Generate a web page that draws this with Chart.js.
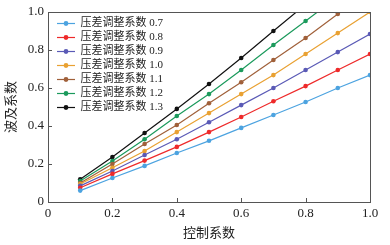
<!DOCTYPE html>
<html lang="zh">
<head>
  <meta charset="UTF-8" />
  <title>波及系数</title>
  <script src="https://cdn.jsdelivr.net/npm/chart.js"></script>
  <style>
    body { margin: 0; background: white; }
    .wrap { width: 390px; height: 245px; }
  </style>
</head>
<body>
  <div class="wrap"><canvas id="chart" width="390" height="245"></canvas></div>

  <script>
    // data
    const xValues = [0.1, 0.2, 0.3, 0.4, 0.5, 0.6, 0.7, 0.8, 0.9, 1.0];
    const seriesNames = ["压差调整系数 0.7", "压差调整系数 0.8", "压差调整系数 0.9", "压差调整系数 1.0",
                         "压差调整系数 1.1", "压差调整系数 1.2", "压差调整系数 1.3"];
    const s07 = [0.06, 0.126, 0.19, 0.258, 0.322, 0.39, 0.458, 0.526, 0.6, 0.668];
    const s08 = [0.075, 0.148, 0.218, 0.29, 0.368, 0.447, 0.53, 0.61, 0.695, 0.779];
    const s09 = [0.085, 0.163, 0.247, 0.33, 0.42, 0.51, 0.6, 0.695, 0.789, 0.884];
    const s10 = [0.095, 0.18, 0.268, 0.368, 0.468, 0.568, 0.668, 0.779, 0.889, 1.0];
    const s11 = [0.1, 0.2, 0.305, 0.405, 0.52, 0.63, 0.747, 0.863, 0.99, 1.1];
    const s12 = [0.11, 0.216, 0.33, 0.453, 0.568, 0.695, 0.826, 0.953, 1.08, 1.2];
    const s13 = [0.12, 0.237, 0.363, 0.49, 0.621, 0.758, 0.9, 1.04, 1.17, 1.3];
    const xTickLabels = ["0", "0.2", "0.4", "0.6", "0.8", "1.0"];
    const yTickLabels = ["0", "0.2", "0.4", "0.6", "0.8", "1.0"];

    const allSeries = [s07, s08, s09, s10, s11, s12, s13];
    const colors = ["#4ca3e0", "#ee2a2a", "#5a5ab6", "#e9a132", "#a0603a", "#1b9a5c", "#111111"];
    const font = "'Liberation Serif', 'Noto Sans CJK SC', serif";

    // small line + dot swatch for the legend
    function swatch(color) {
      const c = document.createElement("canvas");
      c.width = 18; c.height = 7;
      const g = c.getContext("2d");
      g.strokeStyle = color; g.lineWidth = 1.2;
      g.beginPath(); g.moveTo(0, 3.5); g.lineTo(18, 3.5); g.stroke();
      g.fillStyle = color;
      g.beginPath(); g.arc(9, 3.5, 2.4, 0, Math.PI * 2); g.fill();
      return c;
    }

    const frame = {
      id: "frame",
      afterLayout(chart) {
        // nudge the legend off the top-left corner of the plot
        const lg = chart.legend;
        lg.left += 6; lg.right += 6;
        lg.top += 15; lg.bottom += 15;
      },
      afterDraw(chart) {
        const { ctx, chartArea: a, scales } = chart;
        ctx.save();
        ctx.strokeStyle = "#555";
        ctx.lineWidth = 1;
        ctx.strokeRect(a.left + 0.5, a.top + 0.5, a.right - a.left, a.bottom - a.top);
        ctx.beginPath();
        scales.x.ticks.forEach(t => {
          const px = Math.round(scales.x.getPixelForValue(t.value)) + 0.5;
          ctx.moveTo(px, a.bottom); ctx.lineTo(px, a.bottom - 4);
        });
        scales.y.ticks.forEach(t => {
          const py = Math.round(scales.y.getPixelForValue(t.value)) + 0.5;
          ctx.moveTo(a.left, py); ctx.lineTo(a.left + 4, py);
        });
        ctx.stroke();
        ctx.restore();
      }
    };

    new Chart(document.getElementById("chart"), {
      type: "line",
      data: {
        datasets: allSeries.map((s, i) => ({
          label: seriesNames[i],
          data: xValues.map((x, j) => ({ x: x, y: s[j] })),
          borderColor: colors[i],
          backgroundColor: colors[i],
          borderWidth: 1.2,
          pointRadius: 2.3,
          pointHoverRadius: 2.3,
          pointBorderWidth: 0,
          tension: 0
        }))
      },
      options: {
        responsive: false,
        animation: false,
        layout: { padding: { top: 12, right: 20, left: 0, bottom: 0 } },
        plugins: {
          tooltip: { enabled: false },
          legend: {
            position: "chartArea",
            align: "start",
            labels: {
              usePointStyle: true,
              pointStyleWidth: 18,
              padding: 3,
              color: "#222",
              font: { family: font, size: 11 },
              generateLabels: chart => chart.data.datasets.map((d, i) => ({
                text: d.label,
                pointStyle: swatch(colors[i]),
                fillStyle: colors[i],
                strokeStyle: colors[i],
                fontColor: "#222",
                lineWidth: 0,
                hidden: false,
                datasetIndex: i
              }))
            }
          }
        },
        scales: {
          x: {
            type: "linear",
            min: 0, max: 1,
            afterFit: s => { s.height = 43; },
            grid: { display: false, drawTicks: false },
            border: { display: false },
            ticks: {
              stepSize: 0.2,
              padding: 4,
              color: "#222",
              font: { family: font, size: 13 },
              callback: (v, i) => xTickLabels[i]
            },
            title: { display: true, text: "控制系数", color: "#222", font: { family: font, size: 13 }, padding: 4 }
          },
          y: {
            min: 0, max: 1,
            afterFit: s => { s.width = 48; },
            grid: { display: false, drawTicks: false },
            border: { display: false },
            ticks: {
              stepSize: 0.2,
              padding: 4,
              color: "#222",
              font: { family: font, size: 13 },
              callback: (v, i) => yTickLabels[i]
            },
            title: { display: true, text: "波及系数", color: "#222", font: { family: font, size: 13 }, padding: 4 }
          }
        }
      },
      plugins: [frame]
    });
  </script>
</body>
</html>
